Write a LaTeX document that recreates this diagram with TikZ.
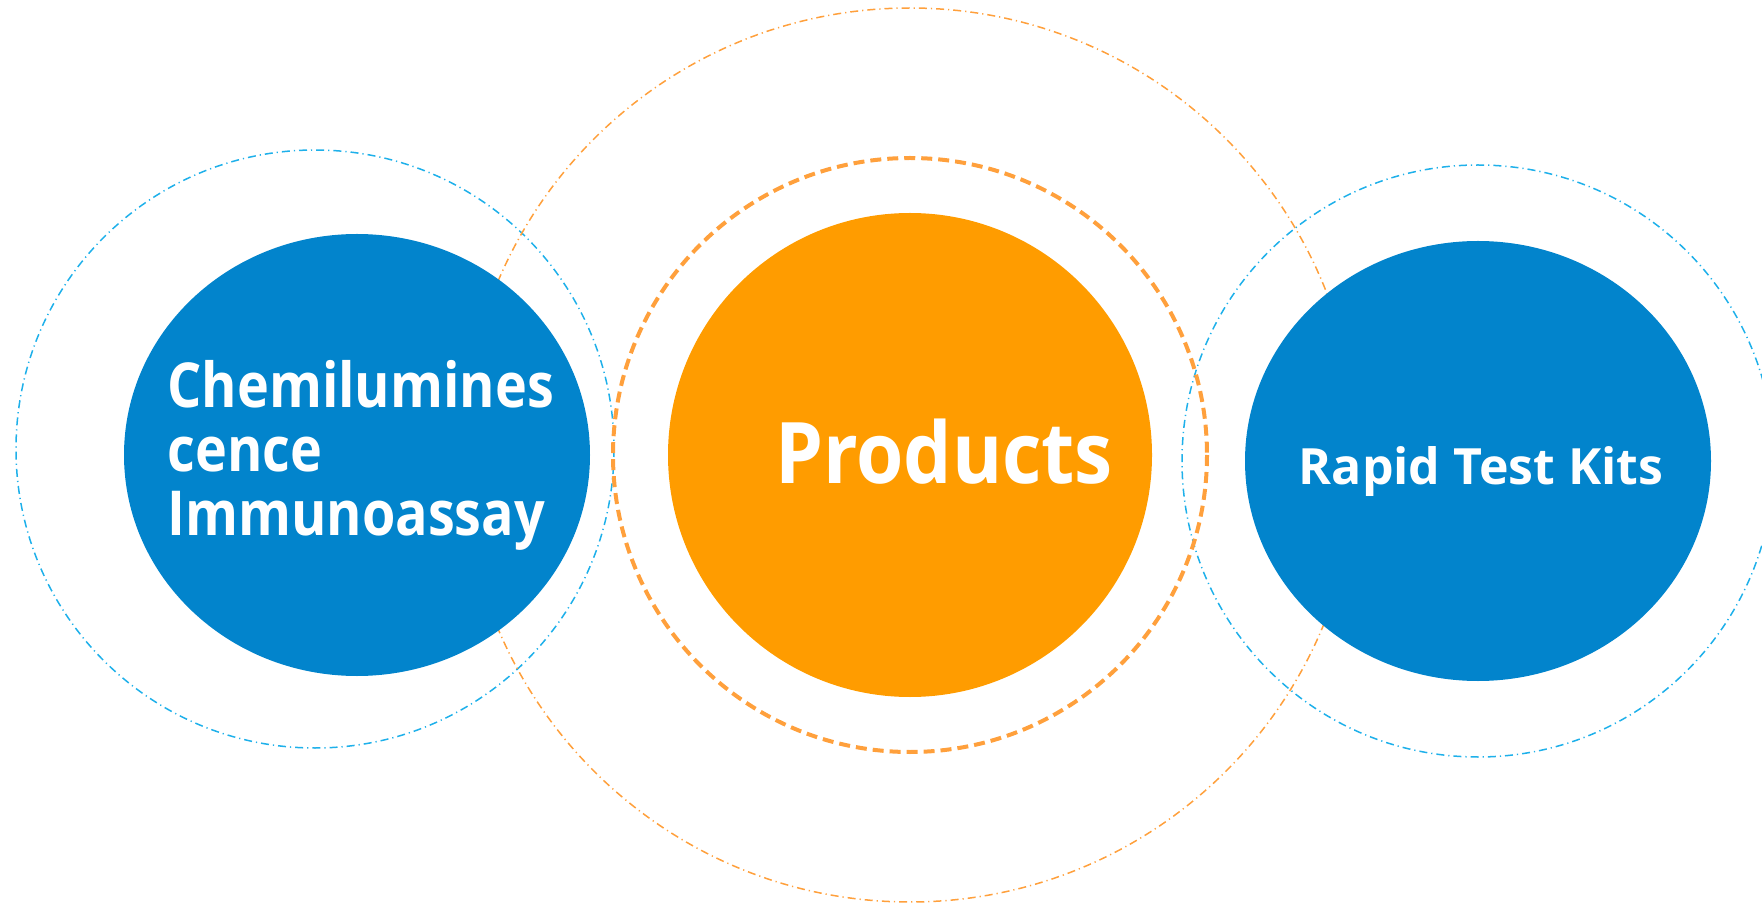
\documentclass[tikz,border=0pt]{standalone}
\usepackage{fontspec}
\setmainfont{Open Sans}
\newfontfamily\narrowfont[FakeStretch=0.9]{Open Sans}
\newfontfamily\chemfont[FakeStretch=0.87]{Open Sans}
\usepackage{tikz}
\usetikzlibrary{shapes.geometric,positioning}
\usepackage{xcolor}

\definecolor{fillblue}{RGB}{2,132,204}
\definecolor{ringblue}{RGB}{30,176,234}
\definecolor{fillorange}{RGB}{255,156,0}
\definecolor{ringorange}{RGB}{255,160,60}

\tikzset{
    blob/.style={ellipse,inner sep=0pt},
    outerring/.style={line width=0.75pt,dash pattern=on 4pt off 2pt on 0.6pt off 2pt},
    innerring/.style={line width=2pt,dash pattern=on 5.5pt off 3pt},
    caption/.style={text=white,font=\bfseries,inner sep=0pt}
}

\begin{document}
\begin{tikzpicture}[x=0.5pt,y=-0.5pt]
    \useasboundingbox (0,0) rectangle (1762,903);
    \clip (0,0) rectangle (1762,903);
    \coordinate (L) at (315,449);
    \coordinate (M) at (910,455);
    \coordinate (R) at (1478,461);
    % rings
    \draw[outerring,ringblue] (L) circle[radius=299];
    \draw[outerring,ringorange] (M) circle[radius=447];
    \draw[outerring,ringblue] (R) circle[radius=296];
    \draw[innerring,ringorange] (M) circle[radius=297];
    % filled discs
    \node[blob,fill=fillblue,minimum width=233pt,minimum height=221pt] (chem) at (357,455) {};
    \node[blob,fill=fillorange,minimum width=242pt,minimum height=242pt] (prod) at (M) {};
    \node[blob,fill=fillblue,minimum width=233pt,minimum height=220pt] (rapid) at (R) {};
    % labels
    \node[caption,anchor=west,align=left,font=\chemfont\bfseries\fontsize{31}{32}\selectfont] (chemtext) at (167,455) {Chemilumines\\cence\\Immunoassay};
    \node[caption,anchor=base,font=\narrowfont\bfseries\fontsize{42.5}{48}\selectfont] (prodtext) at (944,484) {Products};
    \node[caption,anchor=base,font=\bfseries\fontsize{25}{30}\selectfont] (rapidtext) at (1481,485) {Rapid Test Kits};
\end{tikzpicture}
\end{document}
